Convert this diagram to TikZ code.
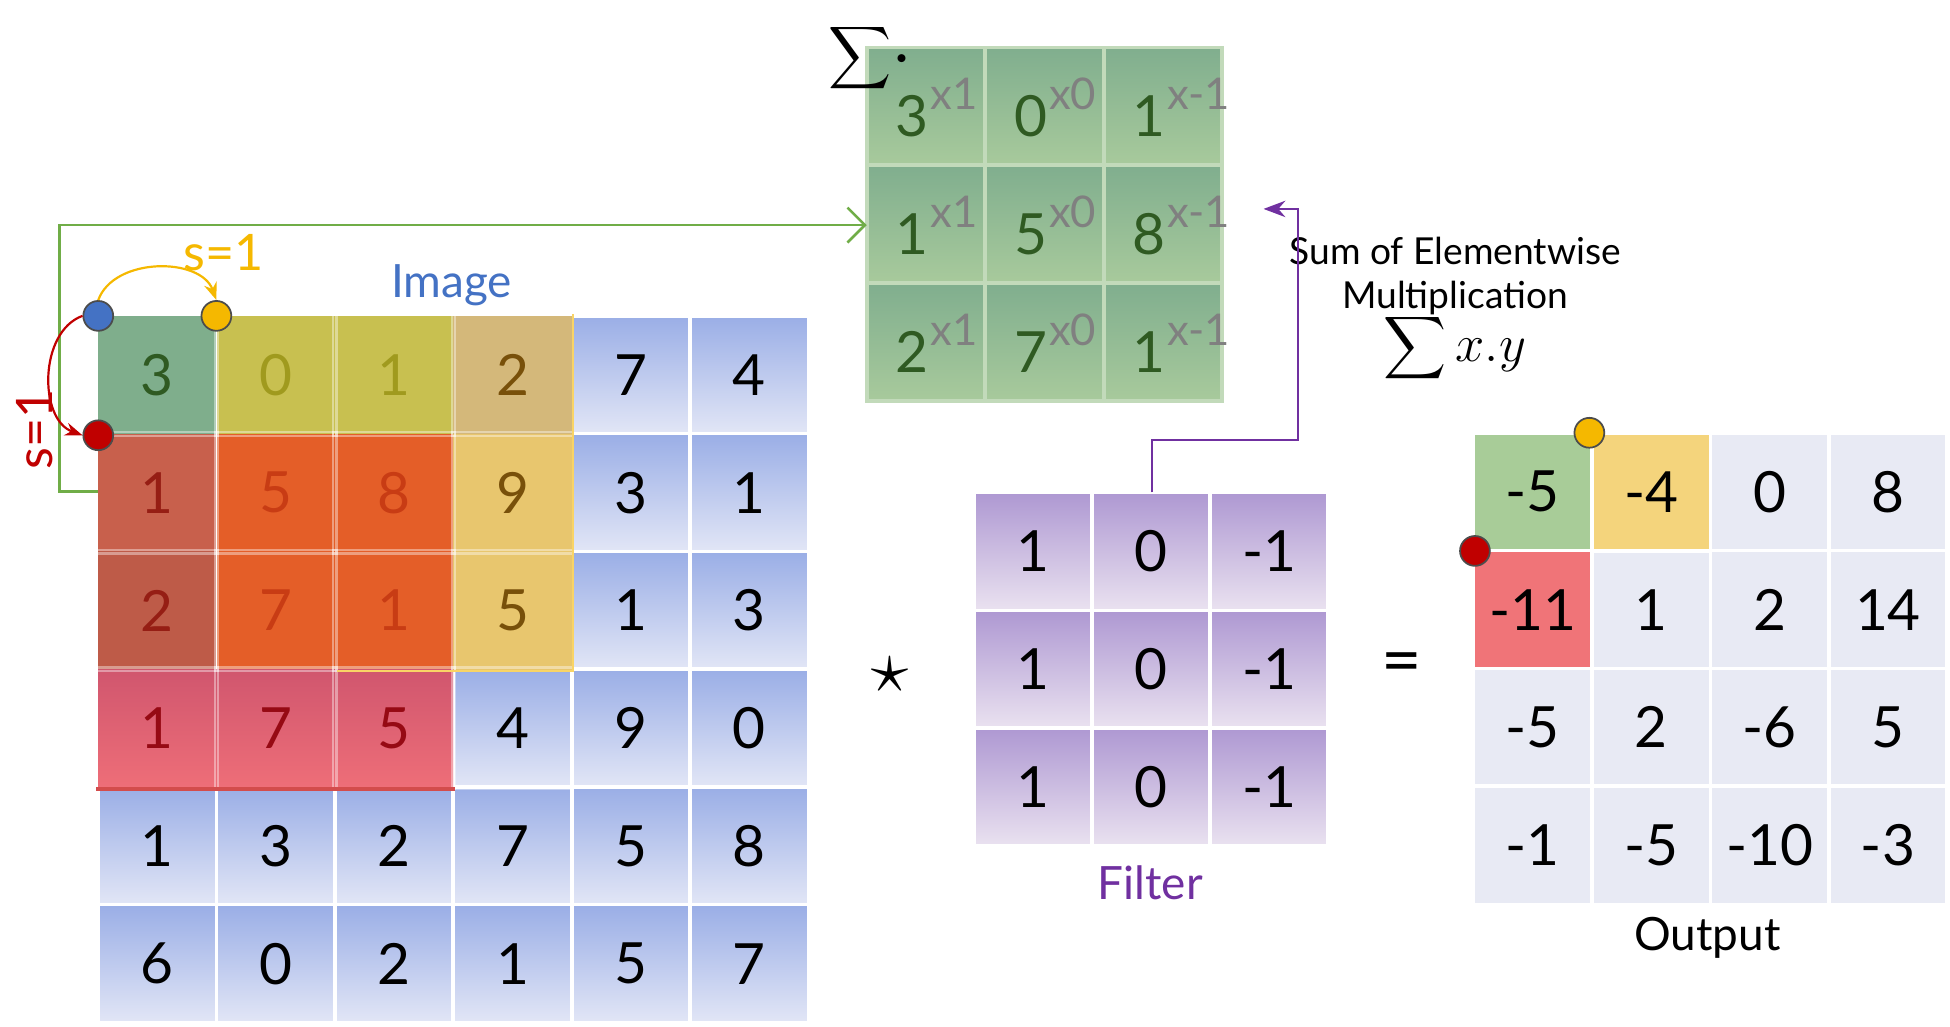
\documentclass[tikz,border=0pt]{standalone}
\usepackage{fontspec}
\setmainfont{Lato}
\usetikzlibrary{arrows.meta}
\definecolor{blueT}{HTML}{9AAEE6}
\definecolor{blueB}{HTML}{E2E6F6}
\definecolor{purT}{HTML}{AE98D2}
\definecolor{purB}{HTML}{EAE2F0}
\definecolor{grT}{HTML}{80AE8E}
\definecolor{grB}{HTML}{A8CA9C}
\definecolor{outF}{HTML}{E8EAF4}
\definecolor{imgblue}{HTML}{4472C4}
\definecolor{yel}{HTML}{F5B800}
\definecolor{filt}{HTML}{7030A0}
\definecolor{ovG}{HTML}{7FAE8C}
\definecolor{ovY}{HTML}{C8C050}
\definecolor{ovYt}{HTML}{A09A1E}
\definecolor{ovT}{HTML}{D4B87A}
\definecolor{ovT2}{HTML}{E8C66E}
\definecolor{ovTt}{HTML}{78500A}
\definecolor{ovR}{HTML}{C8604C}
\definecolor{ovRt}{HTML}{961E14}
\definecolor{ovO}{HTML}{E45E28}
\definecolor{ovOt}{HTML}{C83C14}
\definecolor{ovPT}{HTML}{D0566E}
\definecolor{ovPB}{HTML}{EE6E78}
\definecolor{ovPt}{HTML}{960A14}
\definecolor{oG}{HTML}{A8CC98}
\definecolor{oY}{HTML}{F4D47C}
\definecolor{oR}{HTML}{F07478}
\definecolor{grnline}{HTML}{70AD47}
\definecolor{dred}{HTML}{C00000}
\definecolor{gtext}{HTML}{2F5A22}
\tikzset{
 cell/.style={draw=white,line width=0.8pt,minimum size=0.95cm,inner sep=0,anchor=center,font=\fontsize{13}{13}\selectfont},
 icell/.style={cell,top color=blueT,bottom color=blueB},
 fcell/.style={cell,top color=purT,bottom color=purB},
 gcell/.style={cell,top color=grT,bottom color=grB,draw=grB!70!white},
 ocell/.style={cell,fill=outF},
 ov/.style={cell,draw=none},
 dot/.style={circle,draw=black!70,line width=0.4pt,minimum size=0.24cm,inner sep=0},
 lab/.style={font=\fontsize{8.5}{10}\selectfont},
}
\begin{document}
\begin{tikzpicture}[x=1cm,y=1cm]
\useasboundingbox (0,0) rectangle (15.68,8.25);
% image grid
\foreach \r/\row in {0/{3,0,1,2,7,4},1/{1,5,8,9,3,1},2/{2,7,1,5,1,3},3/{1,7,5,4,9,0},4/{1,3,2,7,5,8},5/{6,0,2,1,5,7}}{
 \foreach \v [count=\cc from 0] in \row {
  \node[icell] (i-\r-\cc) at ({0.79+0.475+0.952*\cc},{8.25-2.54-0.475-0.947*\r}) {\v};
}}
% overlays
\node[ov,fill=ovG,text=gtext] at (i-0-0) {3};
\node[ov,fill=ovY,text=ovYt] at (i-0-1) {0};
\node[ov,fill=ovY,text=ovYt] at (i-0-2) {1};
\node[ov,fill=ovT,text=ovTt] at (i-0-3) {2};
\node[ov,fill=ovR,text=ovRt] at (i-1-0) {1};
\node[ov,fill=ovR!95!black,text=ovRt] at (i-2-0) {2};
\node[ov,fill=ovO,text=ovOt] at (i-1-1) {5};
\node[ov,fill=ovO,text=ovOt] at (i-1-2) {8};
\node[ov,fill=ovO,text=ovOt] at (i-2-1) {7};
\node[ov,fill=ovO,text=ovOt] at (i-2-2) {1};
\node[ov,fill=ovT2,text=ovTt] at (i-1-3) {9};
\node[ov,fill=ovT2,text=ovTt] at (i-2-3) {5};
\node[ov,top color=ovPT,bottom color=ovPB,text=ovPt] at (i-3-0) {1};
\node[ov,top color=ovPT,bottom color=ovPB,text=ovPt] at (i-3-1) {7};
\node[ov,top color=ovPT,bottom color=ovPB,text=ovPt] at (i-3-2) {5};
\foreach \r in {0,1,2,3}{\foreach \c in {0,1,2,3}{\draw[white,opacity=0.4,line width=0.5pt] (i-\r-\c.north west) rectangle (i-\r-\c.south east);}}
\draw[yel!60!white,line width=0.5pt] (i-0-3.north east) -- (i-2-3.south east) -- (i-2-1.south east);
\draw[dred!70!white,line width=0.8pt] (i-3-0.south west) -- (i-3-2.south east);
\node[text=imgblue,font=\fontsize{10.5}{11}\selectfont] (imglab) at (3.63,5.96) {Image};
% green matrix
\foreach \r/\row in {0/{3/1,0/0,1/-1},1/{1/1,5/0,8/-1},2/{2/1,7/0,1/-1}}{
 \foreach \a/\b [count=\cc from 0] in \row {
 \node[gcell] (g-\r-\cc) at ({6.97+0.475+0.953*\cc},{8.25-0.38-0.475-0.947*\r}) {};
 \node[font=\fontsize{13}{13}\selectfont,text=gtext,anchor=east,inner sep=0] at ([xshift=0.03cm,yshift=-0.08cm]g-\r-\cc) {\a};
 \node[font=\fontsize{10}{10}\selectfont,text=black!50,anchor=west,inner sep=0] at ([xshift=0.03cm,yshift=0.1cm]g-\r-\cc) {x\b};
}}
\node[font=\fontsize{16}{16}\selectfont] (sig) at (7.0,7.78) {$\displaystyle\sum\!\cdot$};
% filter
\foreach \r in {0,1,2}{\foreach \c/\v in {0/1,1/0,2/-1}{
 \node[fcell] (f-\r-\c) at ({7.83+0.475+0.95*\c},{8.25-3.96-0.475-0.947*\r}) {\v};}}
\node[text=filt,font=\fontsize{10.5}{11}\selectfont] (flab) at (9.25,1.15) {Filter};
% output
\foreach \r/\row in {0/{-5,-4,0,8},1/{-11,1,2,14},2/{-5,2,-6,5},3/{-1,-5,-10,-3}}{
 \foreach \v [count=\cc from 0] in \row {
 \node[ocell] (o-\r-\cc) at ({11.85+0.475+0.952*\cc},{8.25-3.48-0.475-0.947*\r}) {\v};}}
\node[ocell,fill=oG] at (o-0-0) {-5};
\node[ocell,fill=oY] at (o-0-1) {-4};
\node[ocell,fill=oR] at (o-1-0) {-11};
\node[font=\fontsize{10.5}{11}\selectfont] (olab) at (13.73,0.71) {Output};
\node[font=\fontsize{16}{16}\selectfont] (star) at (7.16,2.82) {$\star$};
\node[font=\fontsize{16}{16}\selectfont] (eq) at (11.27,2.87) {=};
\node[lab,align=center] (sumtxt) at (11.7,6.03) {Sum of Elementwise\\Multiplication};
\node[font=\fontsize{13}{13}\selectfont] (sxy) at (11.7,5.45) {$\displaystyle\sum x.y$};
% connectors
\coordinate (ga) at (0.79,4.30);
\coordinate (gb) at (6.97,6.44);
\draw[-{Straight Barb[length=4pt]},draw=grnline,line width=0.6pt] (ga) -- ++(-0.31,0) |- (gb);
\coordinate (pa) at (9.26,4.29);
\coordinate (pm) at (10.44,4.71);
\coordinate (pb) at (10.16,6.57);
\draw[-{Stealth[length=5pt]},draw=filt,line width=0.5pt] (pa) |- (pm) |- (pb);
% dots
\node[dot,fill=imgblue] (db) at (0.79,5.71) {};
\node[dot,fill=yel] (dy) at (1.74,5.71) {};
\node[dot,fill=dred] (dr) at (0.79,4.75) {};
\node[dot,fill=yel] (ody) at (12.78,4.77) {};
\node[dot,fill=dred] (odr) at (11.86,3.82) {};
\draw[-{Stealth[length=4pt]},yel,line width=0.5pt] (db.north) to[out=70,in=110] (dy.north);
\draw[-{Stealth[length=4pt]},dred,line width=0.5pt] (db.west) to[out=200,in=160] (dr.west);
\node[text=yel,font=\fontsize{11.5}{12}\selectfont] (s1) at (1.8,6.22) {s=1};
\node[text=dred,font=\fontsize{11.5}{12}\selectfont,rotate=90] (s2) at (0.28,4.8) {s=1};
\end{tikzpicture}
\end{document}
